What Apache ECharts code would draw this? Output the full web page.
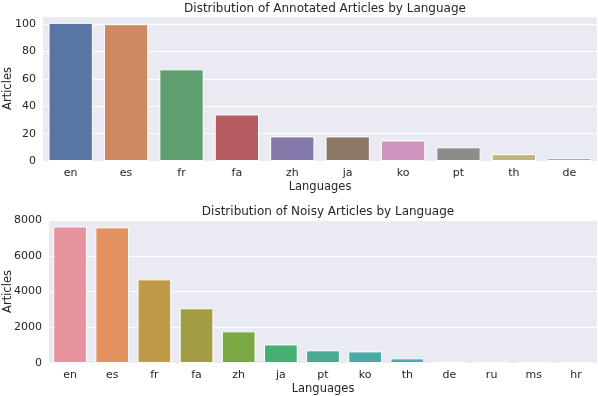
<!DOCTYPE html>
<html>
<head>
<meta charset="utf-8">
<script src="https://cdn.jsdelivr.net/npm/echarts@6/dist/echarts.min.js"></script>
<style>
html, body { margin: 0; padding: 0; background: #fff; }
#container { width: 598px; height: 396px; }
</style>
</head>
<body>
<div id="container"></div>
<script>
// annotated articles (top chart)
var annotLangs = ['en', 'es', 'fr', 'fa', 'zh', 'ja', 'ko', 'pt', 'th', 'de'];
var annotCounts = [101, 100, 67, 34, 18, 18, 15, 10, 5, 2];
var annotColors = ['#5975a4', '#cc8963', '#5f9e6e', '#b55d60', '#857aab', '#8d7866', '#d095bf', '#8c8c8c', '#c1b37f', '#50aca8'];

// noisy articles (bottom chart)
var noisyLangs = ['en', 'es', 'fr', 'fa', 'zh', 'ja', 'pt', 'ko', 'th', 'de', 'ru', 'ms', 'hr'];
var noisyCounts = [7640, 7590, 4680, 3060, 1770, 1040, 710, 650, 260, 70, 12, 8, 5];
var noisyColors = ['#e8949f', '#e2915f', '#bf9a49', '#a29c45', '#7ca844', '#47ad72', '#4aab93', '#4ea9a6', '#51a7b3', '#8e9aa6', '#9d95d6', '#c58ad3', '#de88bd'];

var font = 'DejaVu Sans';
var textColor = '#262626';

var dom = document.getElementById("container");
var myChart = echarts.init(dom, null, {renderer: 'canvas'});

function barData(values, colors) {
    return values.map(function (v, i) {
        return {value: v, itemStyle: {color: colors[i]}};
    });
}

function xAxisFor(idx, cats) {
    return {
        type: 'category',
        gridIndex: idx,
        data: cats,
        name: 'Languages',
        nameLocation: 'middle',
        nameGap: 20,
        nameMoveOverlap: false,
        nameTextStyle: {fontFamily: font, fontSize: 11.5, color: textColor},
        axisLine: {show: false},
        axisTick: {show: false},
        axisLabel: {fontFamily: font, fontSize: 11, color: textColor, margin: 7},
        splitLine: {show: false}
    };
}

function yAxisFor(idx, max, interval, gap, showMax) {
    return {
        type: 'value',
        gridIndex: idx,
        min: 0,
        max: max,
        interval: interval,
        name: 'Articles',
        nameLocation: 'middle',
        nameGap: gap,
        nameMoveOverlap: false,
        nameTextStyle: {fontFamily: font, fontSize: 11.5, color: textColor},
        axisLine: {show: false},
        axisTick: {show: false},
        axisLabel: {
            fontFamily: font, fontSize: 11, color: textColor, margin: 7, showMaxLabel: showMax,
            formatter: function (v) { return String(v); }
        },
        splitLine: {show: true, lineStyle: {color: '#ffffff', width: 1}}
    };
}

option = {
    backgroundColor: '#ffffff',
    animation: false,
    title: [
        {
            text: 'Distribution of Annotated Articles by Language',
            left: 320, top: -2, textAlign: 'center',
            textStyle: {fontFamily: font, fontSize: 12, fontWeight: 'normal', color: textColor}
        },
        {
            text: 'Distribution of Noisy Articles by Language',
            left: 323, top: 201, textAlign: 'center',
            textStyle: {fontFamily: font, fontSize: 12, fontWeight: 'normal', color: textColor}
        }
    ],
    grid: [
        {left: 43, right: 1, top: 16, height: 145, show: true, backgroundColor: '#eaeaf2', borderWidth: 0, outerBoundsMode: 'none', containLabel: false},
        {left: 49, right: 1, top: 220, height: 143, show: true, backgroundColor: '#eaeaf2', borderWidth: 0, outerBoundsMode: 'none', containLabel: false}
    ],
    xAxis: [xAxisFor(0, annotLangs), xAxisFor(1, noisyLangs)],
    yAxis: [yAxisFor(0, 106, 20, 29, false), yAxisFor(1, 8000, 2000, 35, true)],
    series: [
        {
            name: 'annotated',
            type: 'bar',
            xAxisIndex: 0,
            yAxisIndex: 0,
            barWidth: '80%',
            itemStyle: {borderColor: '#ffffff', borderWidth: 1},
            data: barData(annotCounts, annotColors)
        },
        {
            name: 'noisy',
            type: 'bar',
            xAxisIndex: 1,
            yAxisIndex: 1,
            barWidth: '80%',
            itemStyle: {borderColor: '#ffffff', borderWidth: 1},
            data: barData(noisyCounts, noisyColors)
        }
    ]
};
myChart.setOption(option, true);
</script>
</body>
</html>
